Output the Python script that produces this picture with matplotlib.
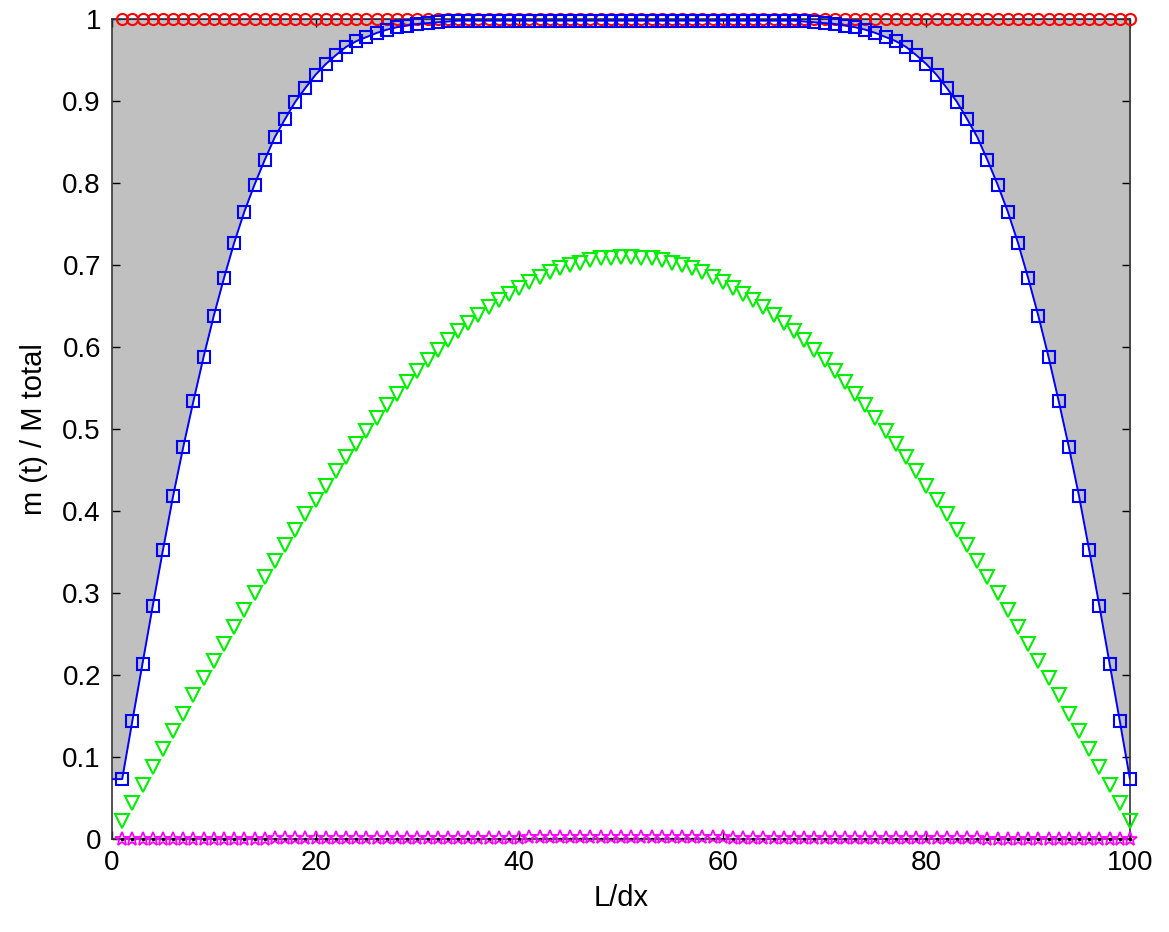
import numpy as np
import matplotlib
matplotlib.use('Agg')
from matplotlib import pyplot as plt
from matplotlib.ticker import FuncFormatter

plt.rcParams['font.family'] = ['Liberation Sans', 'DejaVu Sans']

# L/dx positions
x = np.arange(1, 101)

# upper bound (red circles)
upper = [1.0] * 100

# blue squares
blue = [0.073, 0.144, 0.214, 0.284, 0.352, 0.418, 0.478, 0.534, 0.588, 0.638,
        0.684, 0.727, 0.765, 0.798, 0.828, 0.856, 0.878, 0.899, 0.916, 0.932,
        0.945, 0.956, 0.966, 0.973, 0.978, 0.983, 0.987, 0.990, 0.992, 0.994,
        0.995, 0.996, 0.997, 0.998, 0.998, 0.998, 0.998, 0.998, 0.998, 0.998,
        0.998, 0.998, 0.998, 0.998, 0.998, 0.998, 0.998, 0.998, 0.998, 0.998,
        0.998, 0.998, 0.998, 0.998, 0.998, 0.998, 0.998, 0.998, 0.998, 0.998,
        0.998, 0.998, 0.998, 0.998, 0.998, 0.998, 0.998, 0.997, 0.996, 0.995,
        0.994, 0.992, 0.990, 0.987, 0.983, 0.978, 0.973, 0.966, 0.956, 0.945,
        0.932, 0.916, 0.899, 0.878, 0.856, 0.828, 0.798, 0.765, 0.727, 0.684,
        0.638, 0.588, 0.534, 0.478, 0.418, 0.352, 0.284, 0.214, 0.144, 0.073]

# green triangles
green = [0.022, 0.044, 0.066, 0.088, 0.110, 0.132, 0.153, 0.175, 0.196, 0.217,
         0.238, 0.259, 0.279, 0.300, 0.319, 0.339, 0.358, 0.377, 0.396, 0.414,
         0.431, 0.449, 0.466, 0.482, 0.498, 0.514, 0.529, 0.543, 0.557, 0.571,
         0.584, 0.596, 0.608, 0.619, 0.629, 0.639, 0.649, 0.657, 0.665, 0.672,
         0.679, 0.685, 0.691, 0.696, 0.700, 0.703, 0.706, 0.708, 0.709, 0.710,
         0.710, 0.709, 0.708, 0.706, 0.703, 0.700, 0.696, 0.691, 0.685, 0.679,
         0.672, 0.665, 0.657, 0.649, 0.639, 0.629, 0.619, 0.608, 0.596, 0.584,
         0.571, 0.557, 0.543, 0.529, 0.514, 0.498, 0.482, 0.466, 0.449, 0.431,
         0.414, 0.396, 0.377, 0.358, 0.339, 0.319, 0.300, 0.279, 0.259, 0.238,
         0.217, 0.196, 0.175, 0.153, 0.132, 0.110, 0.088, 0.066, 0.044, 0.022]

# magenta stars
magenta = ([0.0] * 15 + [0.001] * 25 + [0.003] * 20 + [0.001] * 25 + [0.0] * 15)

# black dots on the baseline
base = [0.0] * 100

fig = plt.figure(figsize=(11.69, 9.32), dpi=100)
ax = fig.add_axes([0.0958, 0.0998, 0.8708, 0.8798])

xf = np.r_[0, x, 101]
bf = np.r_[blue[0], blue, blue[-1]]
ax.fill_between(xf, bf, 1, color='#c0c0c0', lw=0, zorder=1)
ax.axhline(1, color='#0000ff', lw=1.5, zorder=2)

ax.plot(x, upper, 'o', color='#ff0000', mfc='none', ms=8, mew=1.5, zorder=3, clip_on=False)
ax.plot(xf, bf, '-', color='#0000ff', lw=1.4, zorder=4)
ax.plot(x, blue, 's', color='#0000ff', mfc='none', ms=8, mew=1.5, zorder=4, clip_on=False)
ax.plot(x, green, 'v', color='#00ee00', mfc='none', ms=10, mew=1.5, zorder=5, clip_on=False)
ax.plot(x, base, '.', color='black', ms=3, zorder=6, clip_on=False)
ax.plot(x, magenta, '*', color='#ff00ff', mfc='none', ms=10, mew=1.3, zorder=7, clip_on=False)

ax.set_xlim(0, 100)
ax.set_ylim(0, 1)
ax.set_xticks(np.arange(0, 101, 20))
ax.set_yticks(np.arange(0, 1.01, 0.1))
ax.yaxis.set_major_formatter(FuncFormatter(lambda v, p: '%g' % round(v, 1)))
ax.tick_params(direction='in', top=True, right=True, length=6, width=1,
               labelsize=20, pad=8)
for s in ax.spines.values():
    s.set_linewidth(1.2)
    s.set_color('#333333')

ax.set_xlabel('L/dx', fontsize=21, labelpad=6)
ax.set_ylabel('m (t) / M total', fontsize=21, labelpad=10)

plt.savefig('out.png', dpi=100)
